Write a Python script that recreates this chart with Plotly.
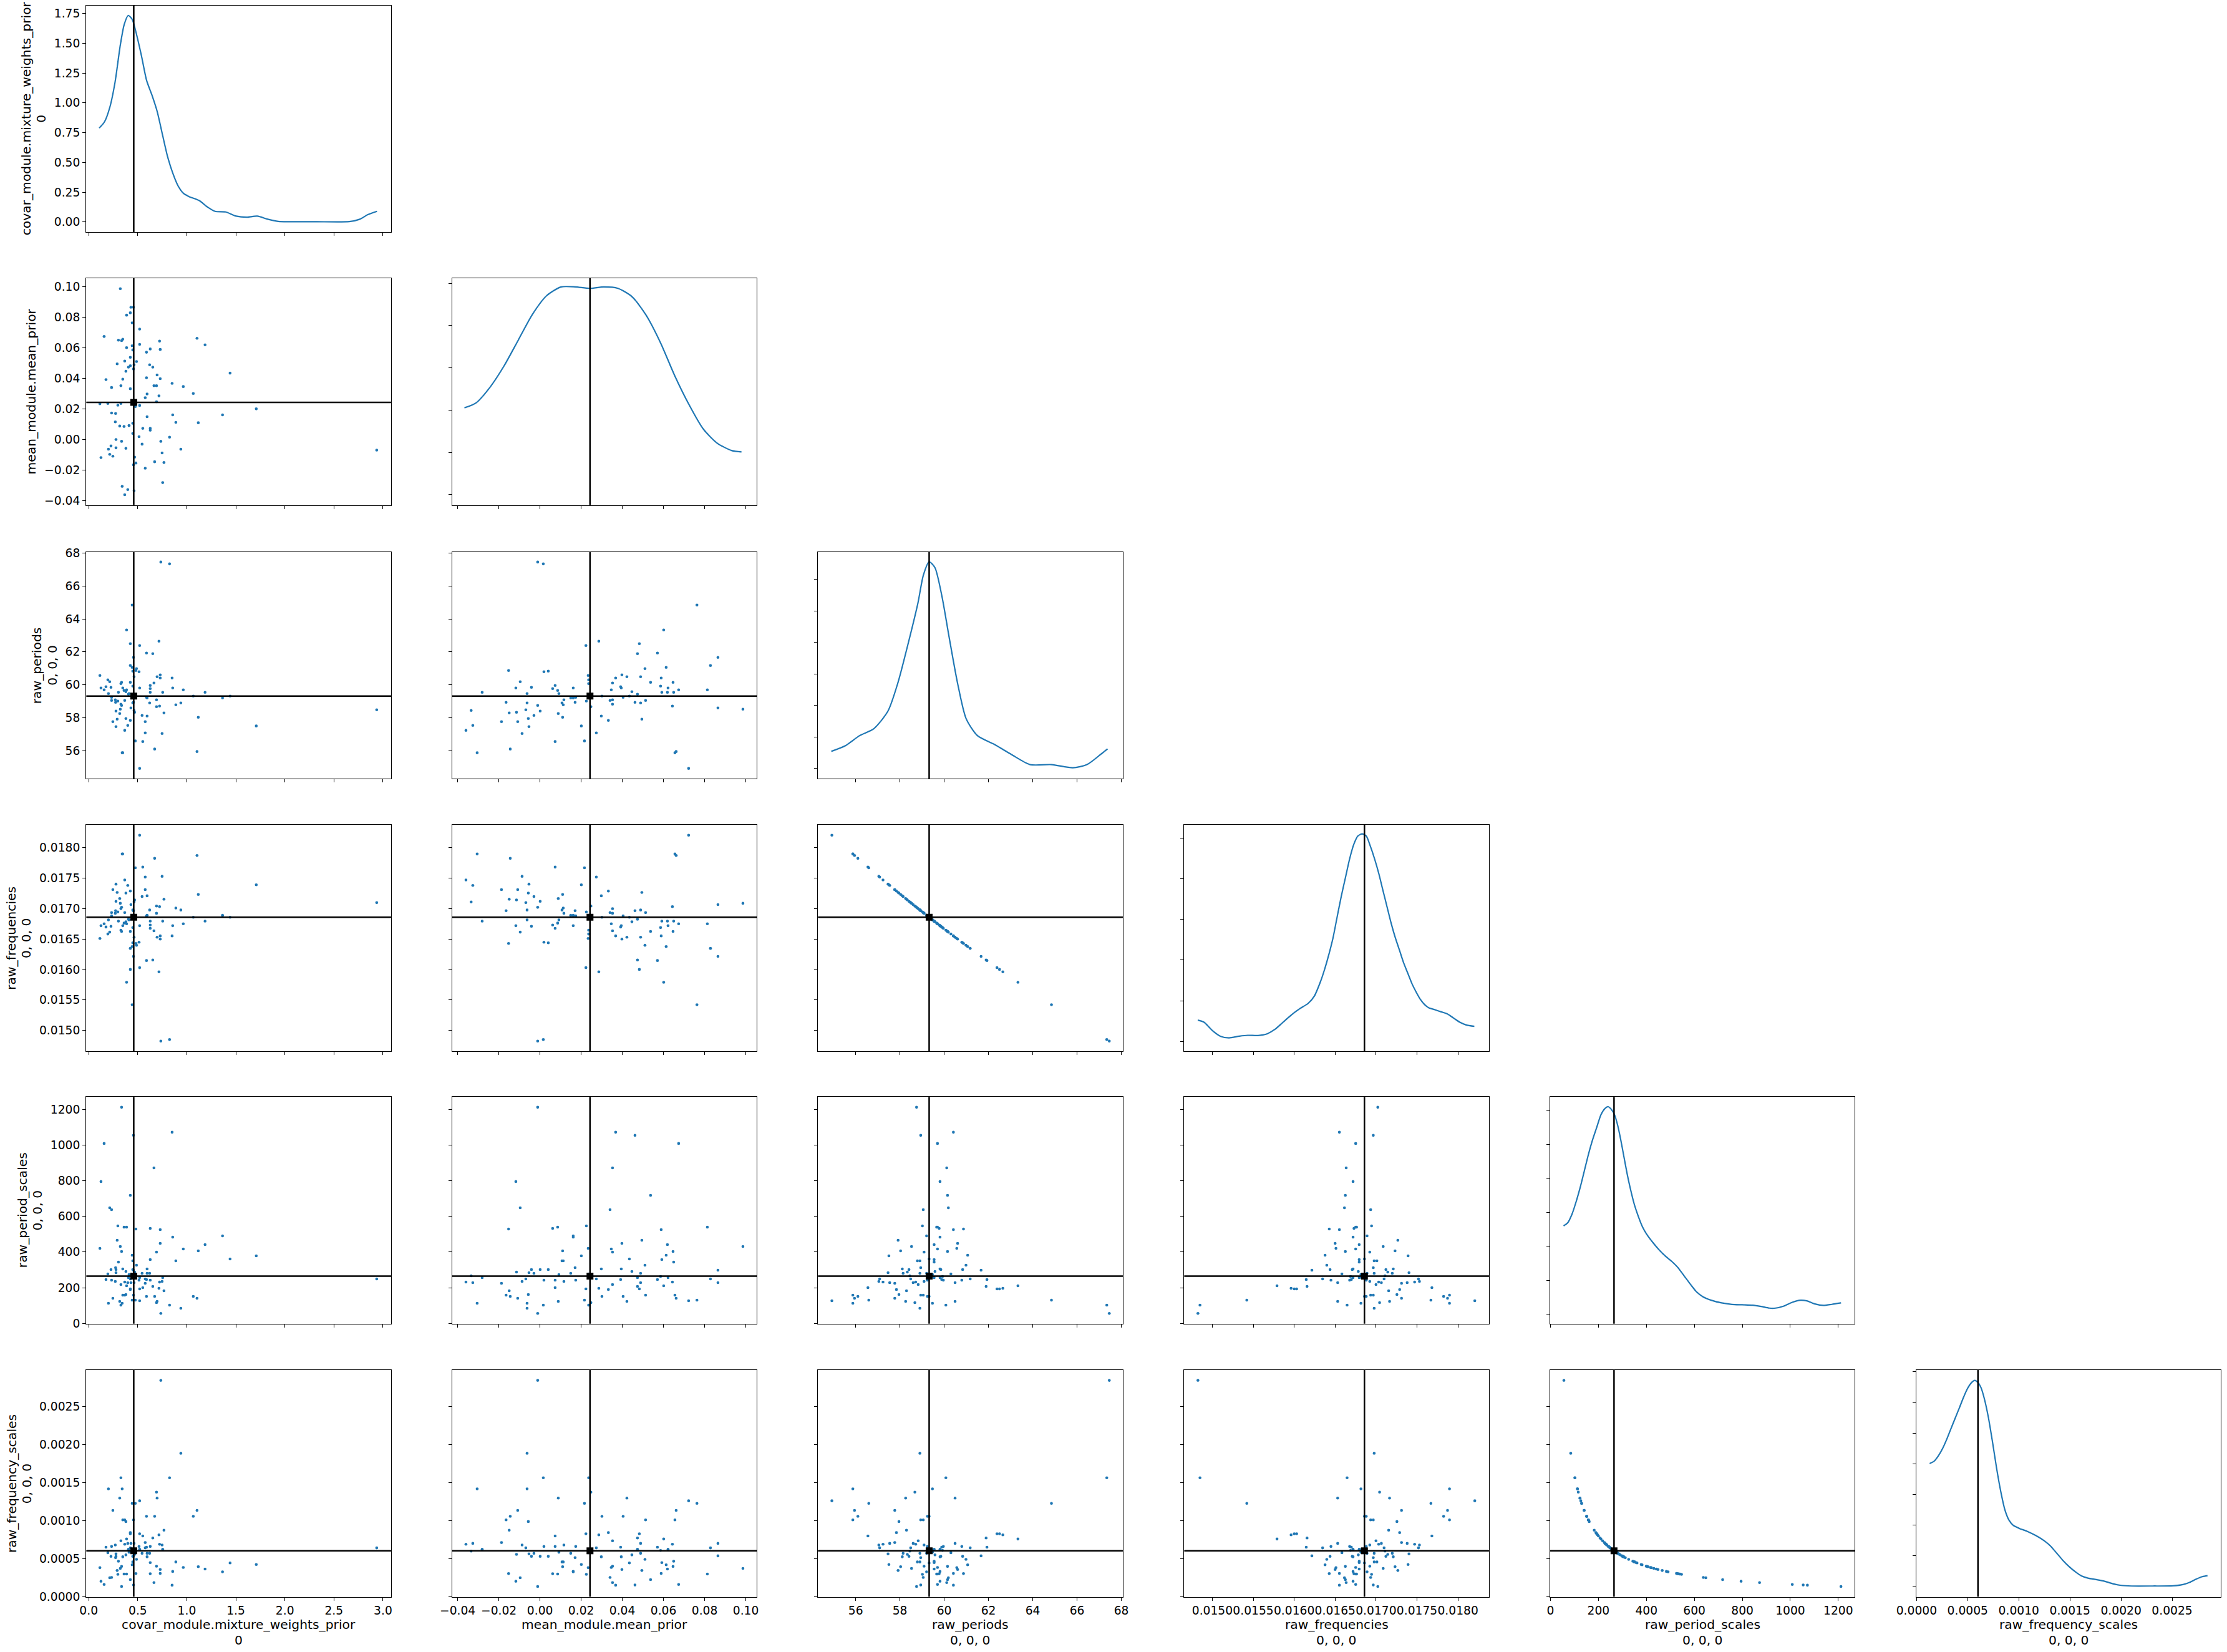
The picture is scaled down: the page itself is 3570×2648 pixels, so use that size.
import plotly.graph_objects as go

W, H = 3570, 2648

# ---------------- data ----------------
var_names = ["covar_module.mixture_weights_prior", "mean_module.mean_prior", "raw_periods",
             "raw_frequencies", "raw_period_scales", "raw_frequency_scales"]
var_coords = ["0", "", "0, 0, 0", "0, 0, 0", "0, 0, 0", "0, 0, 0"]

weights = [0.367, 0.462, 0.398, 0.341, 0.754, 0.576, 0.456, 0.481, 0.767, 0.672,
           0.125, 0.468, 0.246, 0.214, 0.748, 2.936, 0.201, 0.939, 0.379, 0.278,
           0.227, 0.544, 0.735, 0.335, 0.278, 0.824, 0.513, 0.449, 0.627, 0.627,
           0.551, 0.360, 0.316, 0.411, 0.449, 1.117, 0.888, 0.271, 0.595, 0.856,
           1.364, 0.274, 0.233, 1.708, 0.475, 0.519, 0.297, 0.114, 0.195, 0.328,
           0.691, 0.576, 0.716, 0.595, 1.066, 0.424, 0.233, 0.964, 0.665, 0.691,
           0.328, 0.850, 0.176, 0.347, 0.729, 0.589, 0.697, 1.441, 0.379, 0.456,
           0.653, 0.405, 0.424, 0.462, 0.621, 0.290, 0.487, 0.367, 0.424, 0.589,
           0.449, 0.729, 0.627, 0.386, 0.443, 1.186, 0.519, 0.722, 0.335, 0.303,
           0.347, 1.104, 0.157, 0.519, 0.443, 0.386, 0.424, 0.456, 0.430, 0.322]

means = [-0.03596, -0.03343, -0.03263, -0.03051, -0.02808, -0.01869, -0.01646, -0.01525, -0.01495, -0.01444,
         -0.01172, -0.01141, -0.01081, -0.00960, -0.00869, -0.00687, -0.00626, -0.00626, -0.00566, -0.00535,
         -0.00414, -0.00293, -0.00111, -0.00111, 0.00010, 0.00162, 0.00192, 0.00404, 0.00616, 0.00737,
         0.00737, 0.00859, 0.00889, 0.00919, 0.01071, 0.01101, 0.01131, 0.01162, 0.01495, 0.01616,
         0.01616, 0.01707, 0.01737, 0.02010, 0.02162, 0.02232, 0.02253, 0.02343, 0.02364, 0.02364,
         0.02475, 0.02737, 0.02859, 0.02980, 0.03010, 0.03323, 0.03404, 0.03465, 0.03525, 0.03525,
         0.03525, 0.03677, 0.03919, 0.03950, 0.03980, 0.04040, 0.04222, 0.04343, 0.04465, 0.04616,
         0.04737, 0.04737, 0.04828, 0.04889, 0.04889, 0.04949, 0.05101, 0.05131, 0.05374, 0.05707,
         0.05859, 0.05889, 0.05919, 0.06010, 0.06131, 0.06192, 0.06222, 0.06434, 0.06465, 0.06495,
         0.06556, 0.06616, 0.06737, 0.07222, 0.07626, 0.08131, 0.08283, 0.08646, 0.08646, 0.09859]

periods = [57.237, 58.448, 57.539, 55.874, 59.546, 57.767, 58.940, 60.871, 58.297, 56.101,
           59.811, 58.334, 57.767, 60.189, 57.047, 58.486, 59.470, 58.902, 57.956, 57.464,
           59.849, 58.145, 67.457, 58.751, 58.410, 67.344, 60.795, 60.833, 59.773, 59.962,
           56.555, 59.659, 58.259, 59.470, 58.902, 58.032, 58.789, 59.091, 59.205, 59.811,
           59.205, 58.940, 59.243, 57.502, 56.593, 62.385, 59.016, 60.568, 60.303, 60.076,
           58.675, 57.085, 62.650, 58.107, 59.319, 57.842, 59.054, 59.697, 60.114, 59.091,
           58.826, 60.416, 59.886, 59.811, 60.606, 59.243, 60.492, 59.319, 59.584, 58.940,
           61.893, 59.432, 62.498, 60.492, 58.902, 57.918, 60.984, 59.054, 60.151, 61.931,
           59.924, 60.416, 59.546, 63.331, 61.060, 59.546, 59.811, 58.713, 60.151, 59.546,
           55.874, 55.950, 59.697, 54.927, 64.845, 59.697, 61.174, 61.666, 58.599, 58.524]

frequencies = [0.017471, 0.017109, 0.017380, 0.017897, 0.016794, 0.017311, 0.016966, 0.016428, 0.017154, 0.017825,
               0.016719, 0.017143, 0.017311, 0.016614, 0.017530, 0.017098, 0.016815, 0.016977, 0.017255, 0.017402,
               0.016709, 0.017198, 0.014824, 0.017021, 0.017120, 0.014849, 0.016449, 0.016438, 0.016730, 0.016677,
               0.017682, 0.016762, 0.017165, 0.016815, 0.016977, 0.017232, 0.017010, 0.016923, 0.016890, 0.016719,
               0.016890, 0.016966, 0.016880, 0.017391, 0.017670, 0.016030, 0.016945, 0.016510, 0.016583, 0.016646,
               0.017043, 0.017518, 0.015962, 0.017210, 0.016858, 0.017288, 0.016934, 0.016751, 0.016635, 0.016923,
               0.016999, 0.016552, 0.016698, 0.016719, 0.016500, 0.016880, 0.016531, 0.016858, 0.016783, 0.016966,
               0.016157, 0.016826, 0.016001, 0.016531, 0.016977, 0.017266, 0.016398, 0.016934, 0.016625, 0.016147,
               0.016688, 0.016552, 0.016794, 0.015790, 0.016377, 0.016794, 0.016719, 0.017032, 0.016625, 0.016794,
               0.017897, 0.017873, 0.016751, 0.018206, 0.015421, 0.016751, 0.016347, 0.016216, 0.017065, 0.017087]

period_scales = [231.5, 266.5, 228.0, 112.5, 256.0, 224.5, 158.0, 528.9, 182.5, 151.0,
                 794.8, 287.5, 140.5, 647.8, 235.0, 249.0, 112.5, 84.5, 161.5, 284.0,
                 301.5, 280.5, 56.0, 1211.1, 301.5, 102.0, 242.0, 301.5, 532.4, 242.0,
                 200.0, 539.4, 123.0, 273.5, 350.4, 406.4, 350.4, 235.0, 280.5, 483.4,
                 490.4, 312.0, 242.0, 378.4, 130.0, 193.0, 546.4, 420.4, 277.0, 102.0,
                 116.0, 249.0, 196.5, 305.0, 151.0, 189.5, 637.3, 416.9, 871.7, 399.4,
                 217.5, 1071.2, 245.5, 305.0, 448.4, 151.0, 123.0, 360.9, 291.0, 1053.7,
                 207.0, 256.0, 193.0, 228.0, 280.5, 465.9, 326.0, 158.0, 717.8, 245.5,
                 263.0, 525.4, 357.4, 210.5, 381.9, 441.4, 256.0, 231.5, 402.9, 343.4,
                 158.0, 140.5, 1008.2, 126.5, 130.0, 539.4, 249.0, 298.0, 228.0, 430.9]

frequency_scales = [0.0006875, 0.0005972, 0.0006981, 0.0014147, 0.0006217, 0.0007089, 0.0010073, 0.0003009, 0.0008721, 0.0010540,
                    0.0002002, 0.0005536, 0.0011328, 0.0002457, 0.0006773, 0.0006392, 0.0014147, 0.0018835, 0.0009855, 0.0005604,
                    0.0005279, 0.0005674, 0.0028420, 0.0001314, 0.0005279, 0.0015603, 0.0006577, 0.0005279, 0.0002989, 0.0006577,
                    0.0007958, 0.0002951, 0.0012939, 0.0005819, 0.0004542, 0.0003916, 0.0004542, 0.0006773, 0.0005674, 0.0003292,
                    0.0003245, 0.0005101, 0.0006577, 0.0004206, 0.0012243, 0.0008246, 0.0002913, 0.0003786, 0.0005746, 0.0015603,
                    0.0013720, 0.0006392, 0.0008100, 0.0005218, 0.0010540, 0.0008399, 0.0002497, 0.0003818, 0.0001826, 0.0003985,
                    0.0007318, 0.0001486, 0.0006483, 0.0005218, 0.0003549, 0.0010540, 0.0012939, 0.0004410, 0.0005469, 0.0001510,
                    0.0007689, 0.0006217, 0.0008246, 0.0006981, 0.0005674, 0.0003416, 0.0004882, 0.0010073, 0.0002217, 0.0006483,
                    0.0006052, 0.0003029, 0.0004453, 0.0007561, 0.0004167, 0.0003606, 0.0006217, 0.0006875, 0.0003950, 0.0004635,
                    0.0010073, 0.0011328, 0.0001579, 0.0012581, 0.0012243, 0.0002951, 0.0006392, 0.0005341, 0.0006981, 0.0003694]

# reference point (point estimate lines)
ref_weight = 0.459
ref_mean = 0.0243
ref_period = 59.32
ref_frequency = 0.016858
ref_period_scale = 265.0
ref_frequency_scale = 0.0006006

# marginal density curves
kde_weight_x = [0.107, 0.161, 0.215, 0.268, 0.322, 0.362, 0.403, 0.443, 0.483, 0.537, 0.590, 0.644, 0.698, 0.751,
                0.805, 0.859, 0.912, 0.966, 1.020, 1.127, 1.208, 1.288, 1.396, 1.503, 1.610, 1.718, 1.825, 1.932,
                2.040, 2.308, 2.657, 2.764, 2.845, 2.939]
kde_weight_y = [0.788, 0.840, 0.962, 1.171, 1.484, 1.658, 1.733, 1.701, 1.588, 1.397, 1.188, 1.066, 0.927, 0.736,
                0.545, 0.405, 0.301, 0.240, 0.214, 0.179, 0.127, 0.089, 0.084, 0.049, 0.040, 0.049, 0.023, 0.005,
                0.002, 0.002, 0.003, 0.023, 0.061, 0.089]

kde_mean_x = [-0.0367, -0.0312, -0.0243, -0.0174, -0.0105, -0.0036, 0.0033, 0.0103, 0.0172, 0.0241, 0.0310,
              0.0379, 0.0448, 0.0517, 0.0586, 0.0655, 0.0724, 0.0793, 0.0862, 0.0931, 0.0979]
kde_mean_y = [4.11, 4.33, 5.08, 6.10, 7.32, 8.54, 9.42, 9.83, 9.83, 9.76, 9.83,
              9.76, 9.36, 8.47, 7.18, 5.62, 4.26, 3.11, 2.43, 2.09, 2.02]

kde_period_x = [54.90, 55.54, 56.18, 56.82, 57.46, 57.91, 58.42, 58.81, 59.06, 59.32, 59.58, 59.90, 60.22,
                60.60, 60.99, 61.50, 62.27, 63.04, 63.88, 64.85, 65.81, 66.45, 67.06, 67.38]
kde_period_y = [0.027, 0.036, 0.052, 0.063, 0.091, 0.136, 0.205, 0.262, 0.307, 0.328, 0.319, 0.273, 0.209,
                0.136, 0.079, 0.052, 0.038, 0.022, 0.006, 0.006, 0.001, 0.006, 0.022, 0.031]

kde_freq_x = [0.014822, 0.014898, 0.015000, 0.015102, 0.015203, 0.015330, 0.015432, 0.015559, 0.015661, 0.015762,
              0.015864, 0.015965, 0.016067, 0.016169, 0.016245, 0.016321, 0.016372, 0.016423, 0.016474, 0.016524,
              0.016575, 0.016626, 0.016677, 0.016728, 0.016778, 0.016829, 0.016880, 0.016931, 0.016982, 0.017033,
              0.017083, 0.017134, 0.017185, 0.017236, 0.017287, 0.017337, 0.017388, 0.017439, 0.017490, 0.017541,
              0.017592, 0.017642, 0.017719, 0.017795, 0.017871, 0.017947, 0.018023, 0.018100, 0.018201]
kde_freq_y = [104.4, 94.2, 53.2, 24.6, 17.4, 25.6, 29.7, 28.7, 35.8, 58.3,
              94.2, 130.0, 160.7, 186.3, 222.1, 293.7, 355.2, 426.8, 508.7, 611.0,
              713.4, 805.5, 897.6, 969.2, 1010.2, 1020.4, 1010.2, 959.0, 897.6, 826.0,
              744.1, 662.2, 580.3, 508.7, 447.3, 385.9, 334.7, 283.5, 242.6, 206.7,
              181.2, 165.8, 155.6, 145.3, 135.1, 114.6, 94.2, 80.9, 73.7]

kde_pscale_x = [54.6, 71.9, 89.3, 106.6, 123.9, 141.3, 158.6, 175.9, 193.3, 210.6, 227.9, 240.9, 253.9, 266.9,
                279.9, 292.9, 305.9, 318.9, 331.9, 349.2, 366.6, 383.9, 401.2, 427.2, 453.2, 479.2, 505.2, 531.2,
                557.2, 583.2, 609.2, 635.2, 669.9, 713.2, 756.5, 799.9, 843.2, 877.9, 912.5, 938.5, 973.2, 1007.9,
                1042.5, 1068.5, 1103.2, 1137.8, 1172.5, 1211.5]
kde_pscale_y = [0.0010405, 0.0010773, 0.0011755, 0.0013227, 0.0014945, 0.0016908, 0.0018871, 0.0020589, 0.0022061,
                0.0023534, 0.0024270, 0.0024466, 0.0024147, 0.0023534, 0.0022307, 0.0020589, 0.0018626, 0.0016663,
                0.0014945, 0.0012982, 0.0011509, 0.0010282, 0.0009423, 0.0008442, 0.0007583, 0.0006847, 0.0006233,
                0.0005497, 0.0004515, 0.0003534, 0.0002626, 0.0002061, 0.0001644, 0.0001325, 0.0001153, 0.0001104,
                0.0001055, 0.0000908, 0.0000712, 0.0000712, 0.0000957, 0.0001399, 0.0001644, 0.0001571, 0.0001202,
                0.0001031, 0.0001153, 0.0001325]

kde_fscale_x = [0.000128, 0.000173, 0.000213, 0.000254, 0.000295, 0.000335, 0.000376, 0.000417, 0.000457, 0.000498,
                0.000539, 0.000569, 0.000600, 0.000630, 0.000661, 0.000701, 0.000742, 0.000783, 0.000823, 0.000864,
                0.000904, 0.000945, 0.001006, 0.001087, 0.001169, 0.001250, 0.001311, 0.001372, 0.001433, 0.001494,
                0.001555, 0.001616, 0.001677, 0.001758, 0.001839, 0.001921, 0.002002, 0.002104, 0.002307, 0.002510,
                0.002612, 0.002673, 0.002734, 0.002795, 0.002846]
kde_fscale_y = [801.4, 817.6, 851.4, 898.7, 959.5, 1027.1, 1094.6, 1162.2, 1229.8, 1290.6,
                1331.1, 1344.6, 1331.1, 1297.3, 1229.8, 1108.1, 946.0, 770.3, 621.6, 500.0,
                432.4, 398.7, 378.4, 358.1, 331.1, 297.3, 263.5, 216.2, 168.9, 128.4,
                94.6, 67.6, 54.1, 44.6, 33.8, 17.6, 6.8, 2.7, 2.7, 4.1,
                13.5, 27.0, 47.3, 63.5, 70.3]

# ---------------- assembly ----------------
samples = [weights, means, periods, frequencies, period_scales, frequency_scales]
refs = [ref_weight, ref_mean, ref_period, ref_frequency, ref_period_scale, ref_frequency_scale]
kde_x = [kde_weight_x, kde_mean_x, kde_period_x, kde_freq_x, kde_pscale_x, kde_fscale_x]
kde_y = [kde_weight_y, kde_mean_y, kde_period_y, kde_freq_y, kde_pscale_y, kde_fscale_y]

var_ranges = [[-0.025, 3.083], [-0.0427, 0.1054], [54.30, 68.07], [0.014656, 0.018380],
              [-2.0, 1269.0], [-0.000004, 0.002978]]
diag_ranges = [[-0.085, 1.818], [-0.49, 10.24], [-0.0164, 0.3438], [-49.1, 1066.5],
               [-0.000113, 0.002562], [-67.6, 1412.0]]
diag_dtick = [0.25, 2.0, 0.05, 200.0, 0.0004, 200.0]

var_tickvals = [[0, 0.5, 1.0, 1.5, 2.0, 2.5, 3.0],
                [-0.04, -0.02, 0.0, 0.02, 0.04, 0.06, 0.08, 0.10],
                [56, 58, 60, 62, 64, 66, 68],
                [0.0150, 0.0155, 0.0160, 0.0165, 0.0170, 0.0175, 0.0180],
                [0, 200, 400, 600, 800, 1000, 1200],
                [0.0, 0.0005, 0.0010, 0.0015, 0.0020, 0.0025]]
var_ticktext = [["0.0", "0.5", "1.0", "1.5", "2.0", "2.5", "3.0"],
                ["\u22120.04", "\u22120.02", "0.00", "0.02", "0.04", "0.06", "0.08", "0.10"],
                ["56", "58", "60", "62", "64", "66", "68"],
                ["0.0150", "0.0155", "0.0160", "0.0165", "0.0170", "0.0175", "0.0180"],
                ["0", "200", "400", "600", "800", "1000", "1200"],
                ["0.0000", "0.0005", "0.0010", "0.0015", "0.0020", "0.0025"]]
weight_density_ticks = [0.0, 0.25, 0.5, 0.75, 1.0, 1.25, 1.5, 1.75]
weight_density_text = ["0.00", "0.25", "0.50", "0.75", "1.00", "1.25", "1.50", "1.75"]

# panel geometry in pixels
col_left = [138.3, 724.7, 1311.3, 1898.3, 2484.7, 3071.7]
row_top = [8.5, 446.0, 884.7, 1321.7, 1758.3, 2196.0]
PW, PH = 488.7, 363.5

FONT = "DejaVu Sans"
TICK_SIZE = 18.7
LABEL_SIZE = 20.3
BLUE = "#1f77b4"

fig = go.Figure()
layout = dict(template="none", width=W, height=H, margin=dict(l=0, r=0, t=0, b=0, pad=0),
              paper_bgcolor="white", plot_bgcolor="white", showlegend=False,
              font=dict(family=FONT, size=TICK_SIZE, color="black"))
shapes = []
annotations = []

common = dict(showline=True, linecolor="black", linewidth=1.4, mirror=True,
              ticks="outside", ticklen=5, tickwidth=1.4, tickcolor="black",
              showgrid=False, zeroline=False, automargin=False,
              tickfont=dict(family=FONT, size=TICK_SIZE, color="black"))

idx = 0
for r in range(6):
    for c in range(r + 1):
        idx += 1
        xa = "x" if idx == 1 else f"x{idx}"
        ya = "y" if idx == 1 else f"y{idx}"
        x0 = col_left[c] / W
        x1 = (col_left[c] + PW) / W
        y1 = 1 - row_top[r] / H
        y0 = 1 - (row_top[r] + PH) / H
        xaxis = dict(domain=[x0, x1], anchor=ya, range=var_ranges[c], tickmode="array",
                     tickvals=var_tickvals[c], ticktext=var_ticktext[c], showticklabels=(r == 5),
                     tickangle=0, **common)
        if r == c:
            if r == 0:
                yaxis = dict(domain=[y0, y1], anchor=xa, range=diag_ranges[r], tickmode="array",
                             tickvals=weight_density_ticks, ticktext=weight_density_text,
                             showticklabels=True, **common)
            else:
                yaxis = dict(domain=[y0, y1], anchor=xa, range=diag_ranges[r], tickmode="linear",
                             tick0=0, dtick=diag_dtick[r], showticklabels=False, **common)
            fig.add_trace(go.Scatter(x=kde_x[r], y=kde_y[r], mode="lines",
                                     line=dict(color=BLUE, width=2.2, shape="spline", smoothing=0.7),
                                     xaxis=xa, yaxis=ya, hoverinfo="skip"))
            shapes.append(dict(type="line", xref=xa, yref=f"{ya} domain", x0=refs[c], x1=refs[c],
                               y0=0, y1=1, line=dict(color="black", width=2.5), layer="above"))
        else:
            yaxis = dict(domain=[y0, y1], anchor=xa, range=var_ranges[r], tickmode="array",
                         tickvals=var_tickvals[r], ticktext=var_ticktext[r], showticklabels=(c == 0),
                         **common)
            fig.add_trace(go.Scatter(x=samples[c], y=samples[r], mode="markers",
                                     marker=dict(size=4.6, color=BLUE, line=dict(width=0)),
                                     xaxis=xa, yaxis=ya, hoverinfo="skip"))
            shapes.append(dict(type="line", xref=xa, yref=f"{ya} domain", x0=refs[c], x1=refs[c],
                               y0=0, y1=1, line=dict(color="black", width=2.5), layer="above"))
            shapes.append(dict(type="line", xref=f"{xa} domain", yref=ya, x0=0, x1=1,
                               y0=refs[r], y1=refs[r], line=dict(color="black", width=2.5), layer="above"))
            fig.add_trace(go.Scatter(x=[refs[c]], y=[refs[r]], mode="markers",
                                     marker=dict(symbol="square", size=11, color="black"),
                                     xaxis=xa, yaxis=ya, hoverinfo="skip"))
        layout["xaxis" if idx == 1 else f"xaxis{idx}"] = xaxis
        layout["yaxis" if idx == 1 else f"yaxis{idx}"] = yaxis

# axis titles (bottom row x labels, left column y labels)
XNAME_Y = 2604.0
XCOORD_Y = 2628.5
for c in range(6):
    cx = (col_left[c] + PW / 2) / W
    annotations.append(dict(text=var_names[c], x=cx, y=1 - XNAME_Y / H, xref="paper", yref="paper",
                            xanchor="center", yanchor="middle", showarrow=False,
                            font=dict(family=FONT, size=LABEL_SIZE, color="black")))
    if var_coords[c]:
        annotations.append(dict(text=var_coords[c], x=cx, y=1 - XCOORD_Y / H, xref="paper", yref="paper",
                                xanchor="center", yanchor="middle", showarrow=False,
                                font=dict(family=FONT, size=LABEL_SIZE, color="black")))

ytick_label_width = [41.6, 57.3, 23.8, 65.4, 47.6, 65.4]
for r in range(6):
    cy = 1 - (row_top[r] + PH / 2) / H
    left = 126.0 - ytick_label_width[r]
    if var_coords[r]:
        coord_x = left - 18.0
        name_x = coord_x - 24.3
        annotations.append(dict(text=var_coords[r], x=coord_x / W, y=cy, xref="paper", yref="paper",
                                xanchor="center", yanchor="middle", textangle=-90, showarrow=False,
                                font=dict(family=FONT, size=LABEL_SIZE, color="black")))
    else:
        name_x = left - 19.0
    annotations.append(dict(text=var_names[r], x=name_x / W, y=cy, xref="paper", yref="paper",
                            xanchor="center", yanchor="middle", textangle=-90, showarrow=False,
                            font=dict(family=FONT, size=LABEL_SIZE, color="black")))

layout["shapes"] = shapes
layout["annotations"] = annotations
fig.update_layout(**layout)
fig.write_html("out.html")
